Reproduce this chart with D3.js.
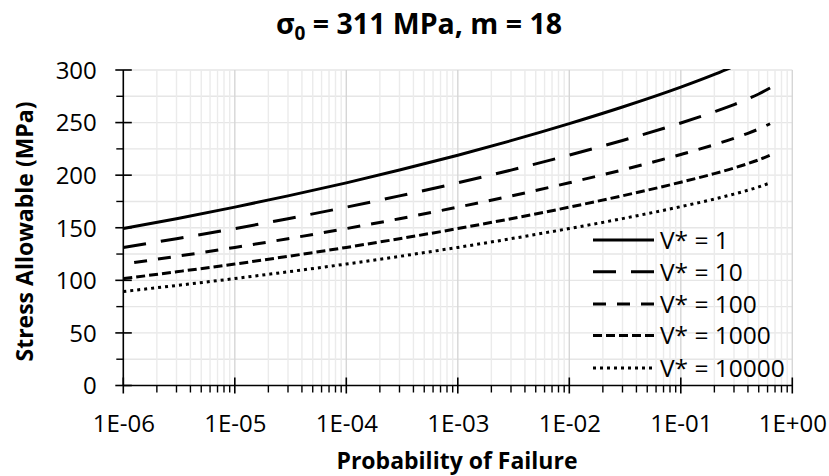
<!DOCTYPE html>
<html>
<head>
<meta charset="utf-8">
<script src="https://cdn.jsdelivr.net/npm/d3@7"></script>
<style>
  html, body { margin: 0; padding: 0; background: #fff; }
  svg { display: block; font-family: "Open Sans", sans-serif; }
</style>
</head>
<body>
<svg id="chart" width="829" height="476"></svg>
<script>
// Allowable stress (MPa) against probability of failure, one curve per effective volume V*
const probability = [1e-6, 3e-6, 1e-5, 3e-5, 1e-4, 3e-4, 1e-3, 3e-3, 1e-2, 3e-2, 0.1, 0.2, 0.3, 0.4, 0.5, 0.632];
const stressV1     = [149.2, 158.6, 169.6, 180.3, 192.7, 204.9, 219.0, 232.8, 249.0, 264.8, 283.7, 295.8, 303.6, 309.7, 315.0, 321.5];
const stressV10    = [131.3, 139.6, 149.2, 158.6, 169.6, 180.3, 192.7, 204.8, 219.1, 233.0, 249.6, 260.3, 267.1, 272.5, 277.2, 282.9];
const stressV100   = [115.5, 122.8, 131.3, 139.6, 149.2, 158.6, 169.6, 180.2, 192.8, 205.0, 219.7, 229.0, 235.1, 239.8, 243.9, 248.9];
const stressV1000  = [101.6, 108.1, 115.5, 122.8, 131.3, 139.6, 149.2, 158.6, 169.6, 180.4, 193.3, 201.5, 206.8, 211.0, 214.6, 219.0];
const stressV10000 = [ 89.4,  95.1, 101.7, 108.1, 115.5, 122.8, 131.3, 139.6, 149.3, 158.7, 170.1, 177.3, 182.0, 185.7, 188.8, 192.7];

const seriesNames = ["V* = 1", "V* = 10", "V* = 100", "V* = 1000", "V* = 10000"];
const seriesValues = [stressV1, stressV10, stressV100, stressV1000, stressV10000];

const xTickValues = [1e-6, 1e-5, 1e-4, 1e-3, 1e-2, 1e-1, 1e0];
const xTickLabels = ["1E-06", "1E-05", "1E-04", "1E-03", "1E-02", "1E-01", "1E+00"];
const yTickValues = [0, 50, 100, 150, 200, 250, 300];
const yMinorValues = [25, 75, 125, 175, 225, 275];

const chartTitle = "σ";
const chartTitleSub = "0";
const chartTitleRest = " = 311 MPa, m = 18";
const xTitle = "Probability of Failure";
const yTitle = "Stress Allowable (MPa)";

// line styles per series
const dashStyles = [null, "23,15", "13,11", "9,4", "3,4"];
const dashOffsets = [0, 0, 13, 0, 0];

const svg = d3.select("#chart");
const plotLeft = 123.3, plotRight = 792.3, plotTop = 70, plotBottom = 385.5;

const x = d3.scaleLog().domain([1e-6, 1]).range([plotLeft, plotRight]);
const y = d3.scaleLinear().domain([0, 300]).range([plotBottom, plotTop]);

// minor log positions (2..9 within each decade)
const xMinor = [];
for (let e = -6; e < 0; e++) {
  for (let k = 2; k <= 9; k++) xMinor.push(k * Math.pow(10, e));
}

// gridlines
const grid = svg.append("g");
grid.selectAll("line.hmin").data(yMinorValues.concat(yTickValues.filter(v => v > 0))).join("line")
  .attr("x1", plotLeft).attr("x2", plotRight)
  .attr("y1", d => y(d)).attr("y2", d => y(d))
  .attr("stroke", "#e6e6e6").attr("stroke-width", 1.4);
grid.selectAll("line.vmin").data(xMinor).join("line")
  .attr("x1", d => x(d)).attr("x2", d => x(d))
  .attr("y1", plotTop).attr("y2", plotBottom)
  .attr("stroke", "#ebebeb").attr("stroke-width", 1.4);
grid.selectAll("line.vmaj").data(xTickValues.slice(1)).join("line")
  .attr("x1", d => x(d)).attr("x2", d => x(d))
  .attr("y1", plotTop).attr("y2", plotBottom)
  .attr("stroke", "#d6d6d6").attr("stroke-width", 1.4);

// clip for the curves
svg.append("clipPath").attr("id", "plotClip")
  .append("rect").attr("x", plotLeft).attr("y", plotTop - 1)
  .attr("width", plotRight - plotLeft).attr("height", plotBottom - plotTop + 1);

const line = d3.line()
  .x((d, i) => x(probability[i]))
  .y(d => y(d))
  .curve(d3.curveMonotoneX);

const curves = svg.append("g").attr("clip-path", "url(#plotClip)");
seriesValues.forEach((vals, s) => {
  curves.append("path")
    .attr("d", line(vals))
    .attr("fill", "none")
    .attr("stroke", "#000")
    .attr("stroke-width", 3)
    .attr("stroke-dasharray", dashStyles[s])
    .attr("stroke-dashoffset", dashOffsets[s]);
});

// axes
const xAxis = svg.append("g").attr("transform", `translate(0,${plotBottom})`);
xAxis.call(d3.axisBottom(x).tickValues(xTickValues).tickSize(0).tickFormat((d, i) => xTickLabels[i]));
xAxis.select(".domain").remove();
xAxis.selectAll("text").attr("dy", null).attr("y", 46)
  .attr("font-size", 24).attr("fill", "#000").attr("font-family", "Open Sans");

svg.append("line").attr("x1", plotLeft).attr("x2", plotRight).attr("y1", plotBottom).attr("y2", plotBottom)
  .attr("stroke", "#000").attr("stroke-width", 1.6);
svg.selectAll("line.xmaj").data(xTickValues).join("line")
  .attr("x1", d => x(d)).attr("x2", d => x(d))
  .attr("y1", plotBottom - 8).attr("y2", plotBottom + 8)
  .attr("stroke", "#000").attr("stroke-width", 1.6);
svg.selectAll("line.xmin").data(xMinor).join("line")
  .attr("x1", d => x(d)).attr("x2", d => x(d))
  .attr("y1", plotBottom).attr("y2", plotBottom + 7)
  .attr("stroke", "#000").attr("stroke-width", 1.4);

const yAxis = svg.append("g").attr("transform", `translate(${plotLeft},0)`);
yAxis.call(d3.axisLeft(y).tickValues(yTickValues).tickSize(0).tickFormat(d3.format("d")));
yAxis.select(".domain").remove();
yAxis.selectAll("text").attr("x", -26.5).attr("dy", "0.35em")
  .attr("font-size", 24).attr("fill", "#000").attr("font-family", "Open Sans");

svg.append("line").attr("x1", plotLeft).attr("x2", plotLeft).attr("y1", plotTop).attr("y2", plotBottom)
  .attr("stroke", "#000").attr("stroke-width", 1.6);
svg.selectAll("line.ymaj").data(yTickValues).join("line")
  .attr("x1", plotLeft - 8).attr("x2", plotLeft + 8.5)
  .attr("y1", d => y(d)).attr("y2", d => y(d))
  .attr("stroke", "#000").attr("stroke-width", 1.6);
svg.selectAll("line.ymin").data(yMinorValues).join("line")
  .attr("x1", plotLeft - 7).attr("x2", plotLeft)
  .attr("y1", d => y(d)).attr("y2", d => y(d))
  .attr("stroke", "#000").attr("stroke-width", 1.4);

// title
const title = svg.append("text")
  .attr("x", 419).attr("y", 34)
  .attr("text-anchor", "middle")
  .attr("font-size", 28.5).attr("font-weight", "bold").attr("fill", "#000");
title.append("tspan").text(chartTitle);
title.append("tspan").attr("font-size", 19).attr("dy", 6).text(chartTitleSub);
title.append("tspan").attr("dy", -6).text(chartTitleRest);

// axis titles
svg.append("text")
  .attr("x", 457).attr("y", 468.5)
  .attr("text-anchor", "middle")
  .attr("font-size", 23).attr("font-weight", "bold").attr("fill", "#000")
  .text(xTitle);
svg.append("text")
  .attr("transform", "translate(33,231.5) rotate(-90)")
  .attr("text-anchor", "middle")
  .attr("font-size", 23).attr("font-weight", "bold").attr("fill", "#000")
  .text(yTitle);

// legend
const legendRows = [240, 271.7, 304, 335.5, 368];
const legend = svg.append("g");
seriesNames.forEach((name, s) => {
  const ly = legendRows[s];
  legend.append("line")
    .attr("x1", 593).attr("x2", 654).attr("y1", ly).attr("y2", ly)
    .attr("stroke", "#000").attr("stroke-width", 3)
    .attr("stroke-dasharray", dashStyles[s]);
  legend.append("text")
    .attr("x", 660).attr("y", ly).attr("dy", "0.36em")
    .attr("font-size", 24.5).attr("fill", "#000")
    .text(name);
});
</script>
</body>
</html>
